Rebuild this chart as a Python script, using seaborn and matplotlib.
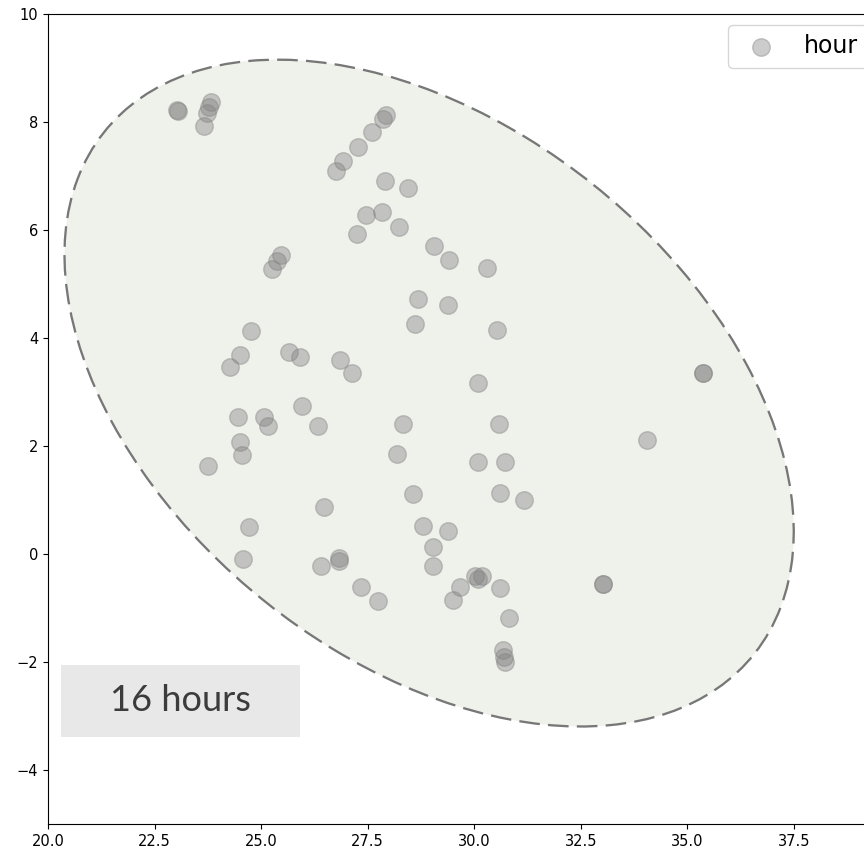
import matplotlib
matplotlib.use("Agg")
import matplotlib.pyplot as plt
from matplotlib.patches import Ellipse, Rectangle
import seaborn as sns
import pandas as pd

# observations for the 16-hour slot
x_vals = [23.03, 23.05, 23.82, 23.78, 23.73, 23.66, 27.93, 27.86, 27.60, 27.27,
          26.92, 26.76, 27.91, 28.44, 27.46, 27.83, 28.23, 27.25, 29.05, 29.41,
          30.30, 25.47, 25.37, 25.25, 28.68, 29.38, 28.61, 30.53, 24.76, 24.50,
          24.27, 25.65, 25.91, 26.85, 27.13, 25.96, 30.09, 24.46, 25.07, 25.16,
          26.33, 28.33, 30.58, 34.05, 35.36, 35.36, 24.50, 24.55, 23.75, 28.19,
          30.09, 30.72, 28.56, 30.60, 31.17, 26.47, 24.72, 28.80, 29.38, 29.03,
          29.03, 24.57, 26.40, 26.83, 26.83, 27.34, 27.74, 30.02, 30.18, 30.09,
          29.66, 29.50, 30.60, 30.81, 30.67, 30.70, 30.72, 33.02, 33.02]
y_vals = [8.22, 8.20, 8.37, 8.28, 8.17, 7.93, 8.13, 8.06, 7.81, 7.54,
          7.28, 7.09, 6.91, 6.78, 6.28, 6.33, 6.06, 5.93, 5.70, 5.44,
          5.30, 5.54, 5.43, 5.28, 4.72, 4.61, 4.26, 4.15, 4.13, 3.69,
          3.46, 3.74, 3.65, 3.59, 3.35, 2.74, 3.17, 2.54, 2.54, 2.37,
          2.37, 2.41, 2.41, 2.11, 3.35, 3.35, 2.07, 1.83, 1.63, 1.85,
          1.70, 1.70, 1.11, 1.13, 1.00, 0.87, 0.50, 0.52, 0.43, 0.13,
          -0.22, -0.09, -0.22, -0.07, -0.13, -0.61, -0.87, -0.41, -0.41, -0.46,
          -0.61, -0.85, -0.63, -1.19, -1.78, -1.91, -2.00, -0.56, -0.56]

# confidence ellipse: centre, full width/height, rotation (degrees)
ell_center = (28.94, 2.98)
ell_width = 18.3
ell_height = 10.5
ell_angle = -25.7

x_ticks = [20.0, 22.5, 25.0, 27.5, 30.0, 32.5, 35.0, 37.5]
x_ticklabels = ["20.0", "22.5", "25.0", "27.5", "30.0", "32.5", "35.0", "37.5"]
y_ticks = [-4, -2, 0, 2, 4, 6, 8, 10]
y_ticklabels = ["\u22124", "\u22122", "0", "2", "4", "6", "8", "10"]

series_label = "hour"
panel_text = "16 hours"

df = pd.DataFrame({"x": x_vals, "y": y_vals})

fig = plt.figure(figsize=(8.64, 8.51), dpi=100)
ax = fig.add_axes([0.05556, 0.03173, 0.98681, 0.95182])

ax.add_patch(Ellipse(ell_center, ell_width, ell_height, angle=ell_angle,
                     facecolor="#eff1eb", edgecolor="#777777",
                     linestyle=(0, (9, 3.6)), linewidth=1.65, zorder=1))

sns.scatterplot(data=df, x="x", y="y", ax=ax, color="gray", alpha=0.4,
                s=160, edgecolor="gray", linewidth=1, label=series_label,
                zorder=3)

ax.set_xlim(20, 40)
ax.set_ylim(-5, 10)
ax.set_xticks(x_ticks)
ax.set_xticklabels(x_ticklabels)
ax.set_yticks(y_ticks)
ax.set_yticklabels(y_ticklabels)
ax.set_xlabel("")
ax.set_ylabel("")
ax.tick_params(labelsize=10.5)

ax.legend(loc="upper left", bbox_to_anchor=(0.7976, 0.9864), borderaxespad=0,
          fontsize=17, frameon=True)

# label panel in the lower left
ax.add_patch(Rectangle((0.01525, 0.1074), 0.2803, 0.0889, transform=ax.transAxes,
                       facecolor="#e8e8e8", edgecolor="none", zorder=4))
ax.text(0.01525 + 0.2803 / 2, 0.1074 + 0.0889 / 2, panel_text,
        transform=ax.transAxes, ha="center", va="center", fontsize=26,
        family="Lato", weight="normal", color="#3c3c3c", zorder=5)

fig.savefig("out.png", dpi=100)
